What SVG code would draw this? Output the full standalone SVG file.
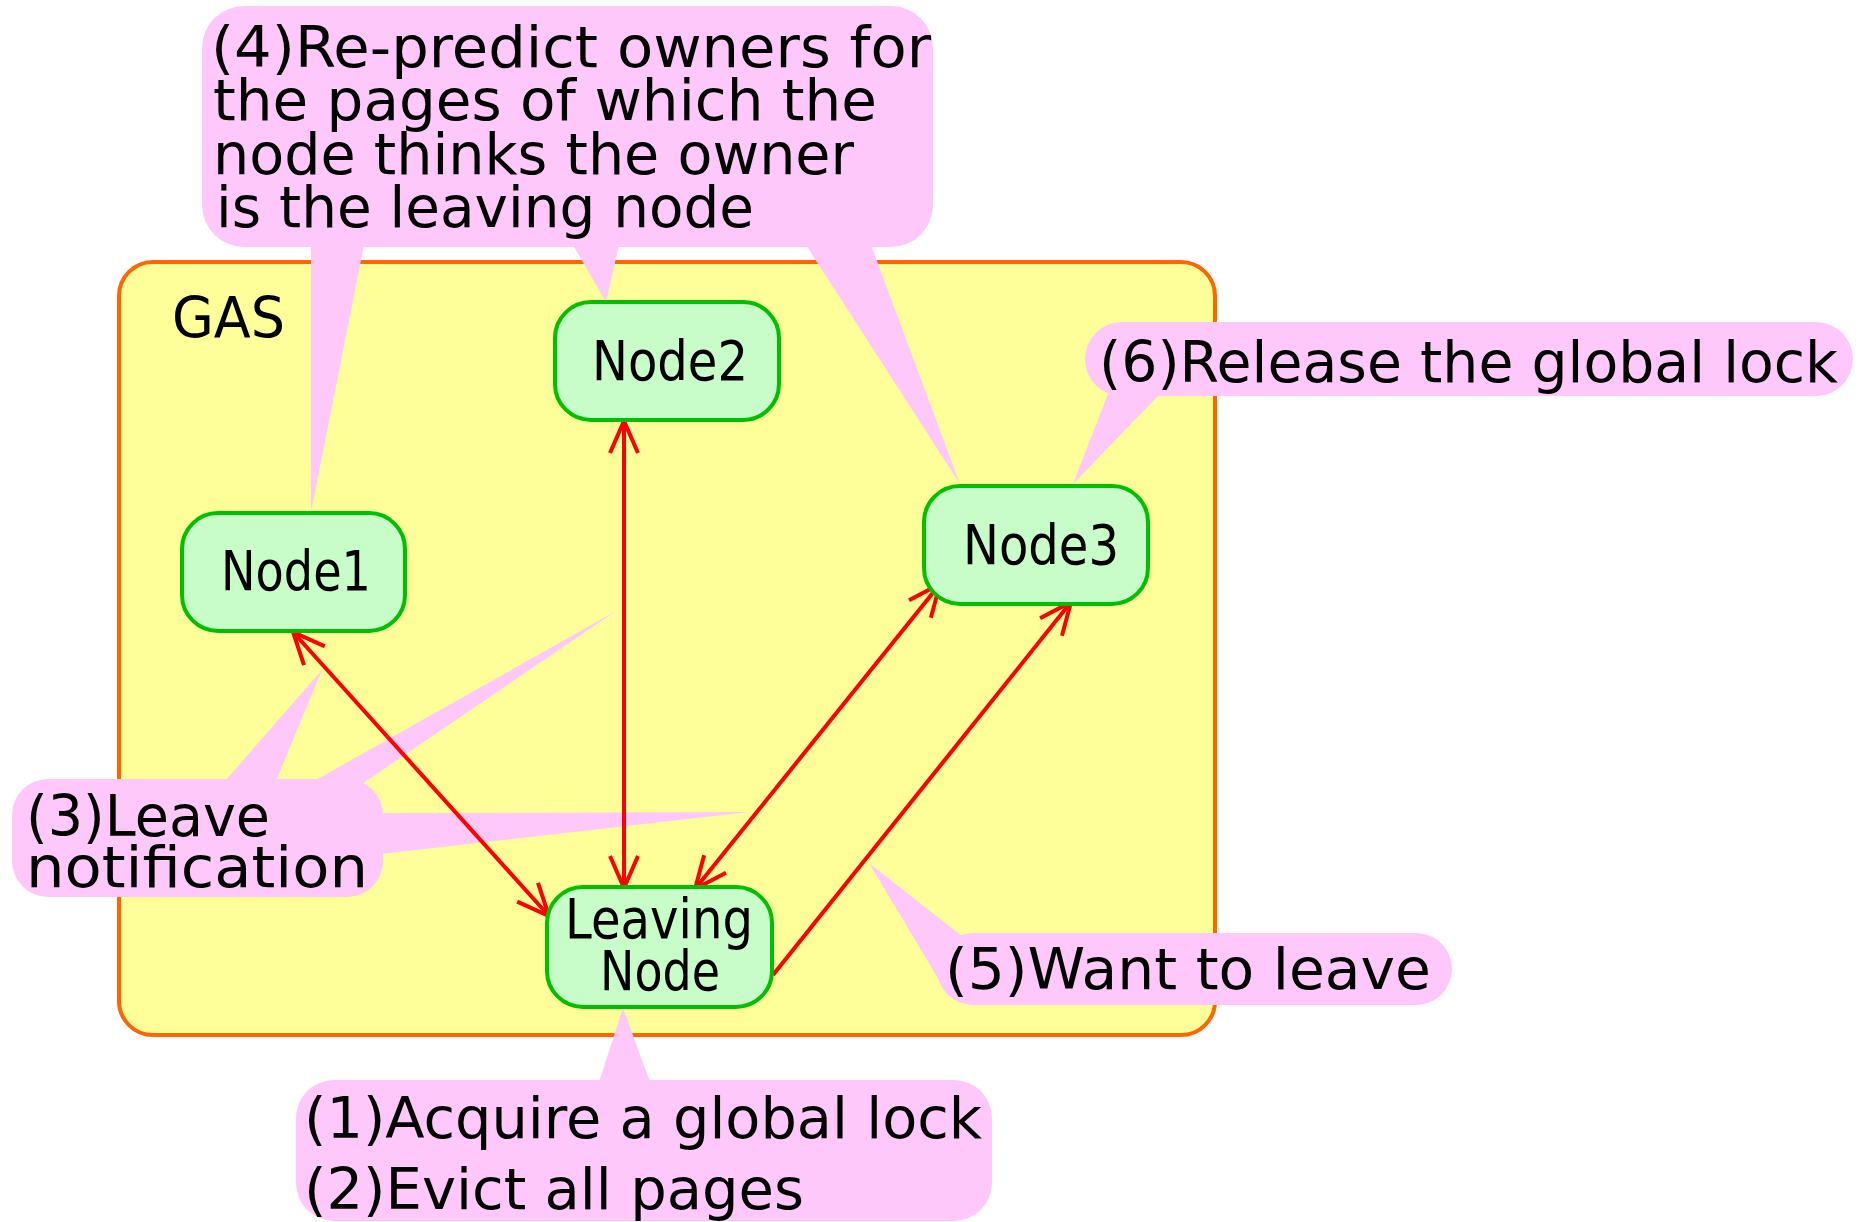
<svg xmlns="http://www.w3.org/2000/svg" width="1859" height="1222" viewBox="0 0 1859 1222">
  <defs>
    <style>
      .bg { fill: #ffffff; }
      .gas { fill: #ffff99; stroke: #ff6600; stroke-width: 4; }
      .call { fill: #ffc8fb; stroke: none; }
      .node { fill: #c8fcc8; stroke: #00c000; stroke-width: 4; }
      .edge { fill: none; stroke: #ff0000; stroke-width: 4; }
      text { font-family: "DejaVu Sans", "Liberation Sans", sans-serif; font-size: 57px; fill: #000000; }
      .nt { font-size: 55px; }
    </style>
    <marker id="open" viewBox="-36 -16 40 32" refX="0" refY="0" markerWidth="40" markerHeight="32" markerUnits="userSpaceOnUse" orient="auto-start-reverse" overflow="visible">
      <path d="M -32 -14 L 0 0 L -32 14" fill="none" stroke="#ff0000" stroke-width="4"/>
    </marker>
  </defs>

  <rect class="bg" x="0" y="0" width="1859" height="1222"/>

  <!-- GAS container -->
  <g id="gas">
    <rect class="gas" x="119" y="262" width="1096" height="773" rx="34"/>
    <text x="172" y="338" textLength="113" lengthAdjust="spacingAndGlyphs">GAS</text>
  </g>

  <!-- annotation callouts -->
  <g id="callout4">
    <rect class="call" x="202" y="6" width="731" height="241" rx="42"/>
    <polygon class="call" points="311,245 364,245 311,512"/>
    <polygon class="call" points="573,245 619,245 606,302"/>
    <polygon class="call" points="806,245 871,245 960,484"/>
    <text x="211" y="67" textLength="720" lengthAdjust="spacingAndGlyphs">(4)Re-predict owners for</text>
    <text x="213" y="120" textLength="664" lengthAdjust="spacingAndGlyphs">the pages of which the</text>
    <text x="213" y="174" textLength="641" lengthAdjust="spacingAndGlyphs">node thinks the owner</text>
    <text x="216" y="227" textLength="538" lengthAdjust="spacingAndGlyphs">is the leaving node</text>
  </g>

  <g id="callout3">
    <rect class="call" x="12" y="779" width="371" height="118" rx="36"/>
    <polygon class="call" points="225,781 276,781 322,670"/>
    <polygon class="call" points="314,781 362,784 616,611"/>
    <polygon class="call" points="381,813 381,854 749,812"/>
    <text x="26" y="836" textLength="244" lengthAdjust="spacingAndGlyphs">(3)Leave</text>
    <text x="26" y="887" textLength="342" lengthAdjust="spacingAndGlyphs">notification</text>
  </g>

  <g id="callout12">
    <rect class="call" x="296" y="1080" width="696" height="141" rx="38"/>
    <polygon class="call" points="599,1082 650,1082 623,1008"/>
    <text x="304" y="1138" textLength="678" lengthAdjust="spacingAndGlyphs">(1)Acquire a global lock</text>
    <text x="304" y="1209" textLength="500" lengthAdjust="spacingAndGlyphs">(2)Evict all pages</text>
  </g>

  <g id="callout5">
    <rect class="call" x="937" y="933" width="515" height="72" rx="36"/>
    <polygon class="call" points="963,937 945,990 869,863"/>
    <text x="945" y="989" textLength="486" lengthAdjust="spacingAndGlyphs">(5)Want to leave</text>
  </g>

  <g id="callout6">
    <rect class="call" x="1085" y="322" width="768" height="74" rx="37"/>
    <polygon class="call" points="1108,394 1160,394 1073,484"/>
    <text x="1099" y="382" textLength="739" lengthAdjust="spacingAndGlyphs">(6)Release the global lock</text>
  </g>

  <!-- connectors -->
  <g id="edges">
    <line class="edge" x1="293" y1="632" x2="549" y2="916" marker-start="url(#open)" marker-end="url(#open)"/>
    <line class="edge" x1="624" y1="421" x2="624" y2="888" marker-start="url(#open)" marker-end="url(#open)"/>
    <line class="edge" x1="940" y1="584" x2="695" y2="889" marker-start="url(#open)" marker-end="url(#open)"/>
    <line class="edge" x1="773" y1="975" x2="1071" y2="602" marker-end="url(#open)"/>
  </g>

  <!-- nodes -->
  <g id="node1">
    <rect class="node" x="182" y="513" width="223" height="118" rx="36"/>
    <text class="nt" x="221" y="590" textLength="150" lengthAdjust="spacingAndGlyphs">Node1</text>
  </g>
  <g id="node2">
    <rect class="node" x="555" y="302" width="224" height="118" rx="36"/>
    <text class="nt" x="592" y="380" textLength="156" lengthAdjust="spacingAndGlyphs">Node2</text>
  </g>
  <g id="node3">
    <rect class="node" x="924" y="486" width="224" height="118" rx="36"/>
    <text class="nt" x="963" y="564" textLength="156" lengthAdjust="spacingAndGlyphs">Node3</text>
  </g>
  <g id="leaving">
    <rect class="node" x="547" y="887" width="225" height="120" rx="36"/>
    <text class="nt" x="565" y="938" textLength="188" lengthAdjust="spacingAndGlyphs">Leaving</text>
    <text class="nt" x="600" y="990" textLength="120" lengthAdjust="spacingAndGlyphs">Node</text>
  </g>
</svg>
